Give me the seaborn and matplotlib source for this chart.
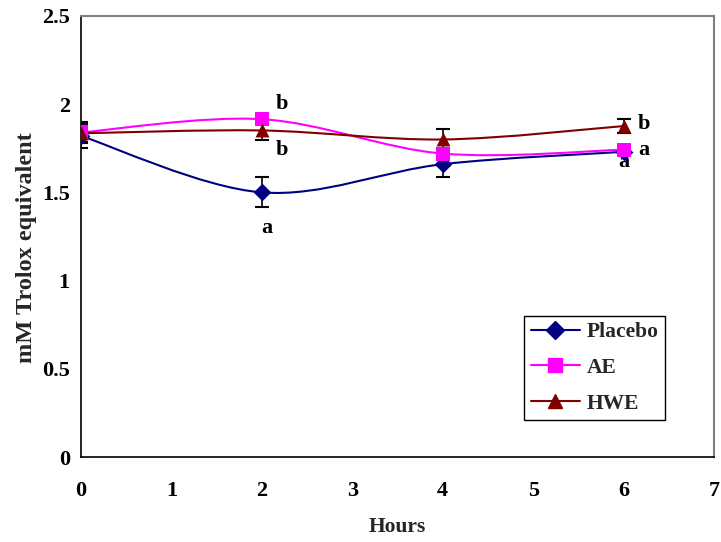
import numpy as np
import pandas as pd
import seaborn as sns
import matplotlib
matplotlib.use("Agg")
import matplotlib.pyplot as plt
from matplotlib.path import Path
from matplotlib.patches import PathPatch
from matplotlib.lines import Line2D

hours = [0, 2, 4, 6]
placebo = [1.82, 1.50, 1.66, 1.73]
placebo_err = [0.07, 0.085, 0.07, 0.0]
ae = [1.84, 1.915, 1.72, 1.742]
ae_err = [0.06, 0.03, 0.03, 0.02]
hwe = [1.835, 1.851, 1.80, 1.876]
hwe_err = [0.05, 0.053, 0.062, 0.04]
series_names = ["Placebo", "AE", "HWE"]
colors = ["#000080", "#FF00FF", "#800000"]
markers = ["D", "s", "^"]
marker_sizes = [9, 10, 10]

# significance letters: (x, y, text)
letters_x = [2.22, 2.22, 2.05, 6.22, 6.22, 6.0]
letters_y = [2.0, 1.74, 1.30, 1.885, 1.74, 1.675]
letters_txt = ["b", "b", "a", "b", "a", "a"]

sns.set_theme(style="white")
plt.rcParams['font.family'] = ['Liberation Serif', 'DejaVu Serif']
plt.rcParams['font.weight'] = 'bold'

fig = plt.figure(figsize=(7.21, 5.42), dpi=100)
ax = fig.add_axes([0.1123, 0.1568, 0.878, 0.8137])

df = pd.DataFrame({
    "Hours": hours * 3,
    "value": placebo + ae + hwe,
    "err": placebo_err + ae_err + hwe_err,
    "series": sum([[n] * len(hours) for n in series_names], []),
})


def smooth_path(xs, ys):
    # Excel-style smoothed line as cubic Bezier segments through the data points
    xs = np.asarray(xs, float)
    ys = np.asarray(ys, float)
    n = len(xs)
    verts = [(xs[0], ys[0])]
    codes = [Path.MOVETO]
    for i in range(n - 1):
        p0 = np.array([xs[max(i - 1, 0)], ys[max(i - 1, 0)]])
        p1 = np.array([xs[i], ys[i]])
        p2 = np.array([xs[i + 1], ys[i + 1]])
        p3 = np.array([xs[min(i + 2, n - 1)], ys[min(i + 2, n - 1)]])
        c1 = p1 + (p2 - p0) / 6.0
        c2 = p2 - (p3 - p1) / 6.0
        verts += [tuple(c1), tuple(c2), tuple(p2)]
        codes += [Path.CURVE4] * 3
    return Path(verts, codes)


for name, col in zip(series_names, colors):
    sub = df[df.series == name]
    patch = PathPatch(smooth_path(sub.Hours, sub.value), facecolor="none",
                      edgecolor=col, lw=1.5, zorder=2)
    ax.add_patch(patch)

for name, col in zip(series_names, colors):
    sub = df[df.series == name]
    ax.errorbar(sub.Hours, sub.value, yerr=sub.err, fmt="none", ecolor="black",
                elinewidth=1.2, capsize=5, capthick=1.5, zorder=3)

for name, col, m, ms in zip(series_names, colors, markers, marker_sizes):
    sub = df[df.series == name]
    sns.scatterplot(x=sub.Hours, y=sub.value, marker=m, color=col, s=ms ** 2,
                    edgecolor=col, linewidth=0, ax=ax, zorder=4, legend=False)

for x, y, t in zip(letters_x, letters_y, letters_txt):
    ax.text(x, y, t, fontsize=16, fontweight="bold", ha="center", va="center",
            color="black")

ax.set_xlim(0, 7)
ax.set_ylim(0, 2.5)
ax.set_xticks(range(0, 8))
ax.set_yticks([0, 0.5, 1, 1.5, 2, 2.5])
ax.set_yticklabels(["0", "0.5", "1", "1.5", "2", "2.5"])
ax.tick_params(axis="both", direction="in", length=5, width=1, colors="black",
               labelsize=16)
ax.tick_params(axis="x", pad=17)
ax.tick_params(axis="y", pad=8)
for lab in ax.get_xticklabels() + ax.get_yticklabels():
    lab.set_fontweight("bold")
ax.set_xlabel("Hours", fontsize=15.5, fontweight="bold", labelpad=12)
ax.set_ylabel("mM Trolox equivalent", fontsize=17.5, fontweight="bold")
ax.yaxis.set_label_coords(-0.07, 0.475)

for s in ["left", "bottom"]:
    ax.spines[s].set_color("black")
    ax.spines[s].set_linewidth(1.2)
for s in ["top", "right"]:
    ax.spines[s].set_color("#808080")
    ax.spines[s].set_linewidth(1.5)

handles = [Line2D([0], [0], color=c, marker=m, markersize=ms, lw=1.5,
                  markerfacecolor=c, markeredgecolor=c)
           for c, m, ms in zip(colors, markers, marker_sizes)]
leg = ax.legend(handles, series_names, loc="lower right",
                bbox_to_anchor=(0.9226, 0.084), frameon=True, fancybox=False,
                framealpha=1, edgecolor="black", fontsize=15.5, handlelength=2.3,
                labelspacing=0.72, borderpad=0.3, handletextpad=0.3,
                borderaxespad=0)
leg.get_frame().set_linewidth(1.0)
for t in leg.get_texts():
    t.set_fontweight("bold")

fig.savefig("out.png", dpi=100)
